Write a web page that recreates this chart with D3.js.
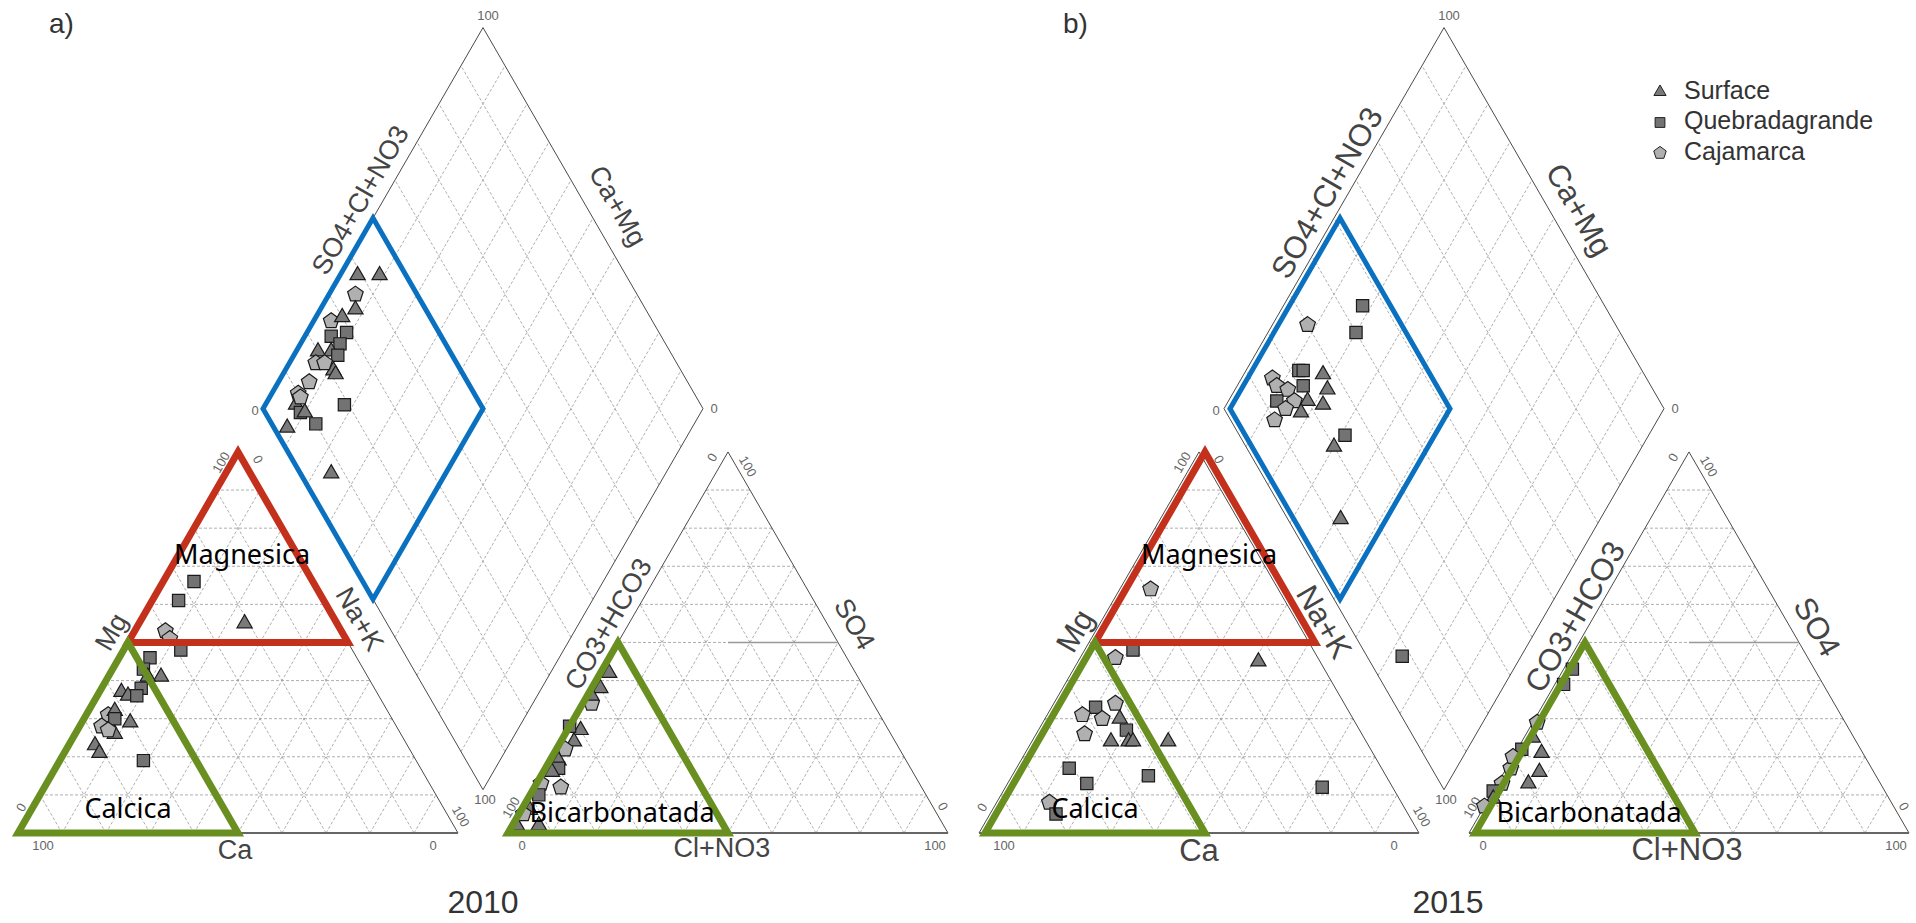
<!DOCTYPE html>
<meta charset="utf-8">
<script src="https://d3js.org/d3.v7.min.js"></script>
<style>
  body { margin: 0; background: #fff; }
  #my_dataviz { width: 1916px; height: 923px; }
</style>
<div id="my_dataviz"></div>
<script>

// ---- data (percent) ----
const groups = ["Surface", "Quebradagrande", "Cajamarca"];

// cation triangle: [group, Ca, Mg, Na+K]
const cation2010 = [
  ["Q",27,66,7],["Q",33,61,6],["S",21,55,24],["C",40,53,7],["C",40,51,9],["Q",39,48,13],
  ["Q",47,46,7],["Q",50,43,7],["S",47,41,12],["S",50,41,9],["Q",53,38,9],["S",58,37,5],
  ["S",57,36,7],["Q",55,36,9],["C",64,31,5],["S",62,32,6],["C",67,28,5],["Q",63,30,7],
  ["S",60,29,11],["S",65,26,9],["C",66,27,7],["S",71,23,6],["S",71,21,8],["Q",62,19,19]
];
// anion triangle: [group, CO3+HCO3, SO4, Cl+NO3]
const anion2010 = [
  ["S",56,42,2],["S",60,38,2],["C",64,34,2],["S",63,36,1],["S",70,27,3],["Q",72,28,0],
  ["S",73,24,3],["C",76,22,2],["S",79,19,2],["Q",80,17,3],["C",82,12,6],["C",86,13,1],
  ["S",82,16,2],["Q",88,10,2],["S",92,6,2],["S",97,2,1],["S",92,2,6],["C",94,5,1]
];
// diamond: [group, Ca+Mg, SO4+Cl+NO3]
const diamond2010 = [
  ["S",96,39],["S",91,44],["C",94,36],["S",92,34],["C",96,27],["S",94,30],["Q",94,25],
  ["Q",91,29],["Q",91,26],["S",95,20],["C",94,18],["S",92,23],["Q",90,24],["S",89,21],
  ["S",88,21],["C",92,20],["C",93,14],["C",94,10],["S",93,8],["Q",91,8],["Q",82,19],
  ["Q",86,10],["S",92,3],["S",90,9],["S",76,7],["C",93,10]
];

const cation2015 = [
  ["C",29,64,7],["C",46,46,8],["Q",41,48,11],["S",14,45,41],["Q",57,33,10],["C",52,34,14],
  ["C",61,31,8],["C",57,30,13],["S",53,30,17],["Q",53,27,20],["C",63,26,11],["S",58,24,18],
  ["S",54,24,22],["S",53,24,23],["S",45,24,31],["Q",71,17,12],["Q",69,13,18],["Q",54,15,31],
  ["Q",16,12,72],["C",80,8,12],["Q",80,5,15]
];
const anion2015 = [
  ["Q",55,43,2],["Q",59,39,2],["C",70,29,1],["S",73,25,2],["S",73,21,6],["Q",77,22,1],
  ["S",76,16,8],["S",80,13,7],["C",82,17,1],["C",80,20,0],["C",86,13,1],["Q",89,11,0],
  ["S",90,9,1],["C",93,7,0]
];
const diamond2015 = [
  ["Q",82,45],["Q",80,40],["C",92,30],["Q",88,22],["Q",87,23],["S",82,27],["S",79,26],
  ["C",93,15],["C",91,15],["Q",85,21],["C",88,17],["Q",89,13],["S",82,20],["S",78,23],
  ["C",85,17],["C",86,14],["S",82,17],["C",87,10],["Q",69,24],["S",70,20],["S",59,12],
  ["Q",27,8]
];

const years = ["2010", "2015"];
const tags = ["a)", "b)"];
const zoneNames = ["Magnesica", "Calcica", "Bicarbonatada"];

// ---- layout ----
const width = 1916, height = 923;
const side = 440, gap = 50, baseY = 833;
const sx = d3.scaleLinear().domain([0, 100]).range([0, side]);
const sh = d3.scaleLinear().domain([0, 100]).range([0, side * Math.sqrt(3) / 2]);

const svg = d3.select("#my_dataviz").append("svg")
  .attr("width", width).attr("height", height)
  .style("font-family", "'Liberation Sans', Arial, sans-serif");

const line = d3.line();
const gridColor = "#9a9a9a", edgeColor = "#4a4a4a", txtColor = "#444";

function pentagon(r) {
  return d3.range(5).map(k => {
    const a = -Math.PI / 2 + k * 2 * Math.PI / 5;
    return [r * Math.cos(a), r * Math.sin(a)];
  });
}
function marker(sel, type) {
  if (type === "S") {
    sel.append("path").attr("d", d3.symbol(d3.symbolTriangle, 100)())
      .attr("fill", "#7a7a7a").attr("stroke", "#1a1a1a").attr("stroke-width", 1.2);
  } else if (type === "Q") {
    sel.append("path").attr("d", d3.symbol(d3.symbolSquare, 150)())
      .attr("fill", "#737373").attr("stroke", "#1a1a1a").attr("stroke-width", 1.2);
  } else {
    sel.append("path").attr("d", line(pentagon(8.2)) + "Z")
      .attr("fill", "#b0b0b0").attr("stroke", "#1a1a1a").attr("stroke-width", 1.2);
  }
}

// triangle helper: point from barycentric weights (a at A, b at B, c at C)
const bary = (T, a, b, c) => [a * T.A[0] + b * T.B[0] + c * T.C[0], a * T.A[1] + b * T.B[1] + c * T.C[1]];

function drawTriangle(g, T) {
  const grid = g.append("g").attr("stroke", gridColor).attr("stroke-width", 0.8)
    .attr("stroke-dasharray", "3,2").attr("fill", "none");
  d3.range(1, 10).forEach(k => {
    const f = k / 10;
    grid.append("path").attr("d", line([bary(T, 1 - f, 0, f), bary(T, 0, 1 - f, f)]));
    grid.append("path").attr("d", line([bary(T, 1 - f, f, 0), bary(T, 0, f, 1 - f)]));
    grid.append("path").attr("d", line([bary(T, f, 1 - f, 0), bary(T, f, 0, 1 - f)]));
  });
  g.append("path").attr("d", line([T.B, T.C, T.A]))
    .attr("fill", "none").attr("stroke", edgeColor).attr("stroke-width", 1);
  g.append("path").attr("d", line([T.A, T.B]))
    .attr("fill", "none").attr("stroke", "#666").attr("stroke-width", 2);
}

function smallLabel(g, p, dx, dy, txt, rot) {
  g.append("text").attr("transform", `translate(${p[0] + dx},${p[1] + dy}) rotate(${rot || 0})`)
    .attr("text-anchor", "middle").attr("dominant-baseline", "middle")
    .attr("font-size", 13).attr("fill", "#666").text(txt);
}
function axisLabel(g, x, y, txt, rot, fs) {
  g.append("text").attr("transform", `translate(${x},${y}) rotate(${rot})`)
    .attr("text-anchor", "middle").attr("dominant-baseline", "middle")
    .attr("font-size", fs).attr("fill", txtColor).text(txt);
}

const panels = [
  { x0: 18, font: 27, odx: 0, cat: cation2010, an: anion2010, dia: diamond2010,
    labels: [[362,201],[616,207],[113,633],[358,620],[235,852],[610,625],[853,625],[722,850]],
    yearX: 483, tagX: 49 },
  { x0: 979, font: 31, odx: 6, cat: cation2015, an: anion2015, dia: diamond2015,
    labels: [[1329,194],[1577,211],[1077,632],[1322,623],[1199,853],[1577,618],[1815,628],[1687,852]],
    yearX: 1448, tagX: 1063 }
];
const labelText = ["SO4+Cl+NO3", "Ca+Mg", "Mg", "Na+K", "Ca", "CO3+HCO3", "SO4", "Cl+NO3"];
const labelRot = [-60, 60, -60, 60, 0, -60, 60, 0];

panels.forEach((P, pi) => {
  const g = svg.append("g");
  const h = sh(100);
  const cat = { A: [P.x0, baseY], B: [P.x0 + side, baseY], C: [P.x0 + side / 2, baseY - h] };
  const ax0 = P.x0 + side + gap;
  const an = { A: [ax0, baseY], B: [ax0 + side, baseY], C: [ax0 + side / 2, baseY - h] };
  const Bd = [P.x0 + side + gap / 2, baseY - gap / 2 * Math.sqrt(3)];
  const Ld = [Bd[0] - side / 2, Bd[1] - h], Rd = [Bd[0] + side / 2, Bd[1] - h], Td = [Bd[0], Bd[1] - 2 * h];

  drawTriangle(g, cat);
  drawTriangle(g, an);
  // solid half-height line in anion triangle
  g.append("path").attr("d", line([[an.C[0], baseY - sh(50)], bary(an, 0, 0.5, 0.5)]))
    .attr("stroke", "#999").attr("stroke-width", 1.4);

  // diamond grid
  const dgrid = g.append("g").attr("stroke", gridColor).attr("stroke-width", 0.8)
    .attr("stroke-dasharray", "3,2").attr("fill", "none");
  const dpt = (cm, s) => [Bd[0] - sx(cm) / 2 + sx(s) / 2, Bd[1] - sh(cm) - sh(s)];
  d3.range(10, 100, 10).forEach(v => {
    dgrid.append("path").attr("d", line([dpt(v, 0), dpt(v, 100)]));
    dgrid.append("path").attr("d", line([dpt(0, v), dpt(100, v)]));
  });
  g.append("path").attr("d", line([Bd, Ld, Td, Rd]) + "Z")
    .attr("fill", "none").attr("stroke", edgeColor).attr("stroke-width", 1);

  // tick labels
  smallLabel(g, cat.A, 25, 14, "100"); smallLabel(g, cat.B, -25, 14, "0");
  smallLabel(g, cat.A, 4, -25, "0", -60); smallLabel(g, cat.C, -16, 11, "100", -60);
  smallLabel(g, cat.C, 19, 8, "0", 60); smallLabel(g, cat.B, 2, -16, "100", 60);
  smallLabel(g, an.A, 14, 14, "0"); smallLabel(g, an.B, -13, 14, "100");
  smallLabel(g, an.A, 4, -25, "100", -60); smallLabel(g, an.C, -15, 6, "0", -60);
  smallLabel(g, an.C, 19, 15, "100", 60); smallLabel(g, an.B, -6, -26, "0", 60);
  smallLabel(g, Td, 5, -11, "100"); smallLabel(g, Ld, -8, 3, "0");
  smallLabel(g, Rd, 11, 1, "0"); smallLabel(g, Bd, 2, 11, "100");

  P.labels.forEach((p, i) => axisLabel(g, p[0], p[1], labelText[i], labelRot[i], P.font));

  // points
  const pts = g.append("g");
  P.cat.forEach(d => {
    const p = [cat.A[0] + sx(d[3]) + sx(d[2]) / 2, baseY - sh(d[2])];
    pts.append("g").attr("transform", `translate(${p})`).call(marker, d[0]);
  });
  P.an.forEach(d => {
    const p = [an.A[0] + sx(d[3]) + sx(d[2]) / 2, baseY - sh(d[2])];
    pts.append("g").attr("transform", `translate(${p})`).call(marker, d[0]);
  });
  P.dia.forEach(d => {
    pts.append("g").attr("transform", `translate(${dpt(d[1], d[2])})`).call(marker, d[0]);
  });

  // year and tag
  g.append("text").attr("x", P.yearX).attr("y", 913).attr("text-anchor", "middle")
    .attr("font-size", 32).attr("fill", "#333").text(years[pi]);
  g.append("text").attr("x", P.tagX).attr("y", 33)
    .attr("font-size", 28).attr("fill", "#333").text(tags[pi]);

  // coloured zone overlays
  const o = g.append("g").attr("transform", `translate(${P.odx},0)`).attr("fill", "none")
    .attr("stroke-linejoin", "miter");
  o.append("path").attr("d", line([Ld, dpt(100, 50), dpt(50, 50), dpt(50, 0)]) + "Z")
    .attr("stroke", "#0a70c0").attr("stroke-width", 5);
  o.append("path").attr("d", line([cat.C, bary(cat, 0.5, 0, 0.5), bary(cat, 0, 0.5, 0.5)]) + "Z")
    .attr("stroke", "#c3311d").attr("stroke-width", 7);
  o.append("path").attr("d", line([cat.A, bary(cat, 0.5, 0, 0.5), bary(cat, 0.5, 0.5, 0)]) + "Z")
    .attr("stroke", "#688f1f").attr("stroke-width", 7);
  o.append("path").attr("d", line([an.A, bary(an, 0.5, 0, 0.5), bary(an, 0.5, 0.5, 0)]) + "Z")
    .attr("stroke", "#688f1f").attr("stroke-width", 7);
  const zt = [[cat.C[0] + 4, 564], [cat.A[0] + side / 4, 818], [an.A[0] + side / 4 + 4, 822]];
  zt.forEach((p, i) => {
    o.append("text").attr("x", p[0]).attr("y", p[1]).attr("text-anchor", "middle")
      .attr("font-family", "'Noto Sans', sans-serif").attr("font-size", 27)
      .attr("fill", "#000").attr("stroke", "none").text(zoneNames[i]);
  });
});

// legend (2015 panel)
const legend = svg.append("g").attr("transform", "translate(1660,92)");
["S", "Q", "C"].forEach((t, i) => {
  const row = legend.append("g").attr("transform", `translate(0,${i * 30.5})`);
  row.append("g").attr("transform", "scale(0.8)").call(marker, t);
  row.append("text").attr("x", 24).attr("dominant-baseline", "middle")
    .attr("font-size", 25).attr("fill", "#333").text(groups[i]);
});

</script>
